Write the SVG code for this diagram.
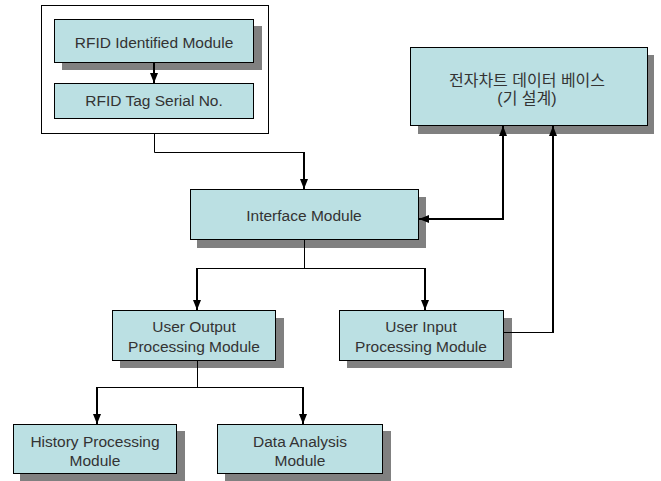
<svg xmlns="http://www.w3.org/2000/svg" width="661" height="481" viewBox="0 0 661 481">
  <style>
    .box { fill: #bbe0e3; stroke: #000; stroke-width: 1; }
    .shadow { fill: #808080; }
    .frame { fill: #fff; stroke: #000; stroke-width: 1; }
    .label { font-family: "Liberation Sans", "Noto Sans CJK KR", sans-serif; font-size: 15.5px; fill: #333; text-anchor: middle; }
    .ko { font-size: 16px; }
    .thin { fill: none; stroke: #000; stroke-width: 1; }
    .thick { fill: none; stroke: #000; stroke-width: 2; }
  </style>
  <defs>
    <marker id="arrow" markerWidth="10" markerHeight="10" viewBox="0 0 10 10" refX="10" refY="5" orient="auto" markerUnits="userSpaceOnUse">
      <path d="M0,1 L10,5 L0,9 z" fill="#000"/>
    </marker>
  </defs>
  <rect width="661" height="481" fill="#fff"/>

  <!-- RFID container -->
  <g id="rfid-group">
    <rect class="frame" x="41.5" y="5.5" width="227" height="128"/>
  </g>

  <g id="rfid-identified">
    <rect class="shadow" x="62" y="26" width="200" height="44"/>
    <rect class="box" x="54.5" y="19.5" width="199" height="43"/>
    <text class="label" x="154" y="48">RFID Identified Module</text>
  </g>

  <g id="rfid-tag">
    <rect class="box" x="54.5" y="83.5" width="199" height="35"/>
    <text class="label" x="154" y="106">RFID Tag Serial No.</text>
  </g>

  <g id="emr-db">
    <rect class="shadow" x="418" y="55" width="236" height="79"/>
    <rect class="box" x="410.5" y="47.5" width="237" height="78"/>
    <text class="label ko" x="527" y="86">전자차트 데이터 베이스</text>
    <text class="label ko" x="527" y="104">(기 설계)</text>
  </g>

  <g id="interface">
    <rect class="shadow" x="197" y="197" width="229" height="51"/>
    <rect class="box" x="190.5" y="189.5" width="228" height="50"/>
    <text class="label" x="304" y="221">Interface Module</text>
  </g>

  <g id="user-output">
    <rect class="shadow" x="120" y="318" width="164" height="50"/>
    <rect class="box" x="112.5" y="310.5" width="163" height="50"/>
    <text class="label" x="194" y="332">User Output</text>
    <text class="label" x="194" y="352">Processing Module</text>
  </g>

  <g id="user-input">
    <rect class="shadow" x="347" y="318" width="165" height="50"/>
    <rect class="box" x="339.5" y="310.5" width="164" height="50"/>
    <text class="label" x="421" y="332">User Input</text>
    <text class="label" x="421" y="352">Processing Module</text>
  </g>

  <g id="history">
    <rect class="shadow" x="20" y="431" width="165" height="50"/>
    <rect class="box" x="13.5" y="424.5" width="163" height="49"/>
    <text class="label" x="95" y="447">History Processing</text>
    <text class="label" x="95" y="466">Module</text>
  </g>

  <g id="data-analysis">
    <rect class="shadow" x="225" y="431" width="166" height="50"/>
    <rect class="box" x="217.5" y="424.5" width="165" height="49"/>
    <text class="label" x="300" y="447">Data Analysis</text>
    <text class="label" x="300" y="466">Module</text>
  </g>

  <g id="connectors">
    <!-- RFID identified to tag serial -->
    <line class="thick" x1="154" y1="63" x2="154" y2="83" marker-end="url(#arrow)"/>
    <!-- RFID group to interface -->
    <polyline class="thin" points="154.5,134 154.5,152.5 304,152.5"/>
    <line class="thick" x1="304" y1="152" x2="304" y2="189" marker-end="url(#arrow)"/>
    <!-- interface <-> database -->
    <polyline class="thick" points="503,128 503,219 419,219" marker-end="url(#arrow)"/>
    <line class="thick" x1="503" y1="140" x2="503" y2="126" marker-end="url(#arrow)"/>
    <!-- user input to database -->
    <polyline class="thin" points="504,332.5 553,332.5"/>
    <line class="thick" x1="553" y1="333" x2="553" y2="126" marker-end="url(#arrow)"/>
    <!-- interface to processing modules -->
    <polyline class="thin" points="304.5,240 304.5,268.5"/>
    <line class="thin" x1="197" y1="268.5" x2="425" y2="268.5"/>
    <line class="thick" x1="197" y1="268" x2="197" y2="310" marker-end="url(#arrow)"/>
    <line class="thick" x1="425" y1="268" x2="425" y2="310" marker-end="url(#arrow)"/>
    <!-- user output to history / analysis -->
    <polyline class="thin" points="197.5,361 197.5,387.5"/>
    <line class="thin" x1="97" y1="387.5" x2="303" y2="387.5"/>
    <line class="thick" x1="97" y1="387" x2="97" y2="424" marker-end="url(#arrow)"/>
    <line class="thick" x1="303" y1="387" x2="303" y2="424" marker-end="url(#arrow)"/>
  </g>
</svg>
